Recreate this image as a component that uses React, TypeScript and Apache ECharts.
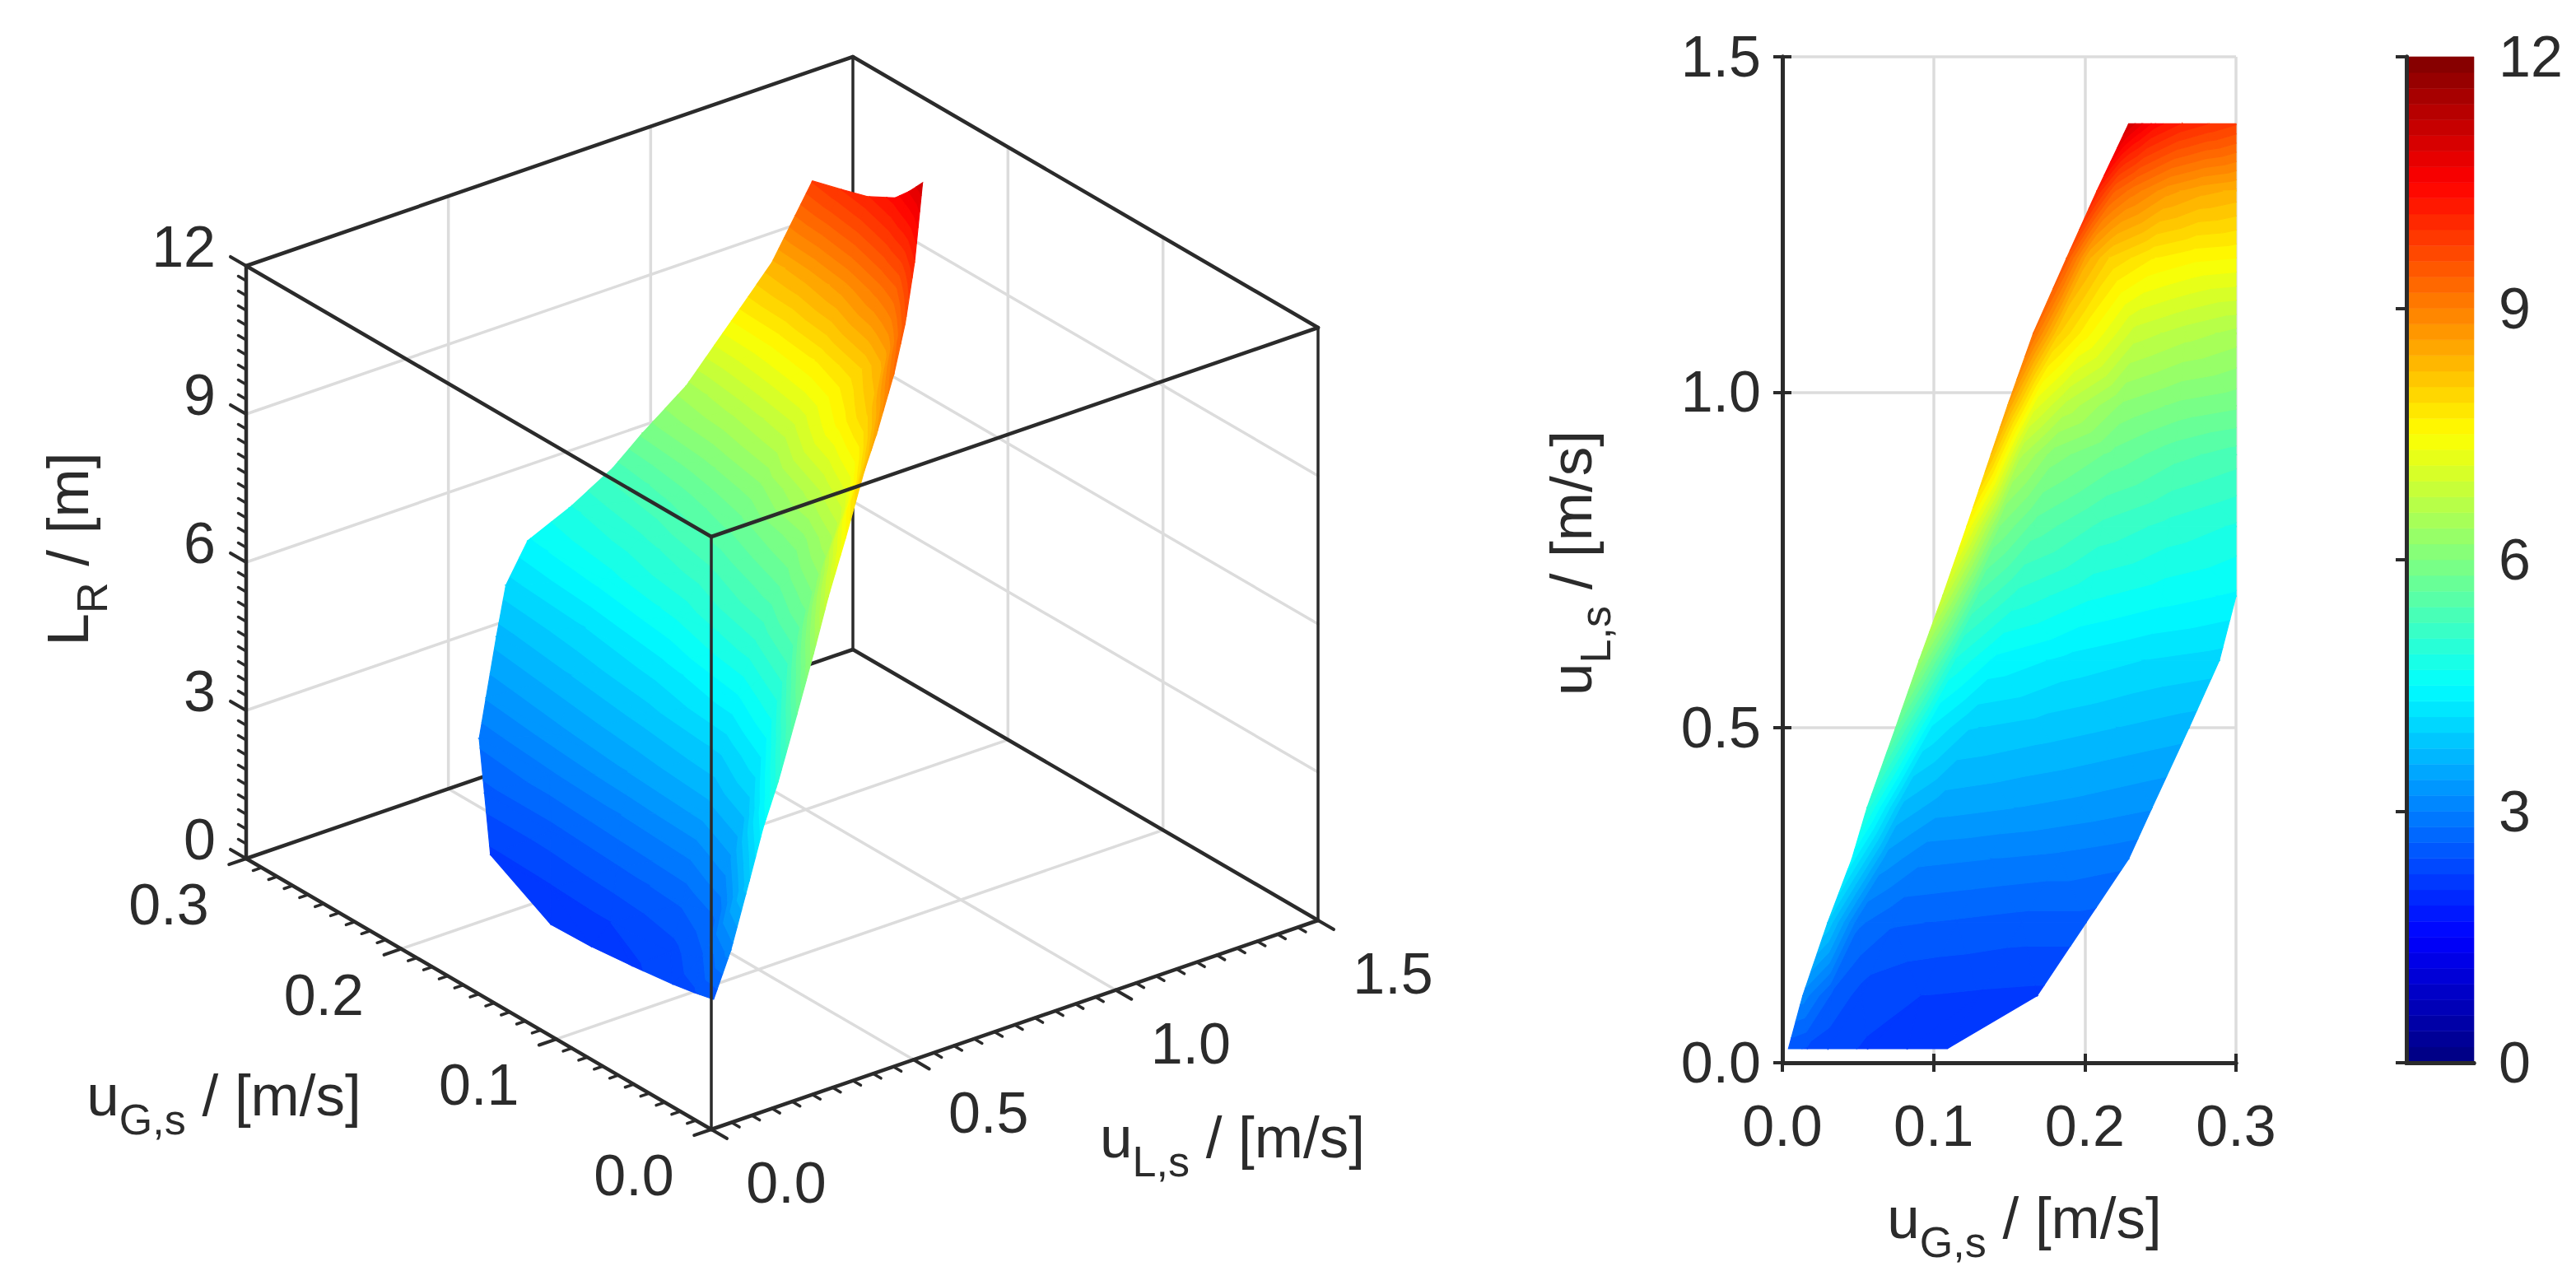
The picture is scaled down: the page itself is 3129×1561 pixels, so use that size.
import React, { useEffect, useRef } from "react";
import * as echarts from "echarts";

// ---- data ----
const UL_ROWS = [0.021, 0.1, 0.209, 0.304, 0.38, 0.5, 0.6, 0.696, 0.8, 0.907, 0.98, 1.088, 1.2, 1.3, 1.4];
const UG_LEFT = [0.004, 0.0135, 0.03, 0.046, 0.056, 0.075, 0.0905, 0.106, 0.122, 0.138, 0.149, 0.166, 0.188, 0.208, 0.229];
const UG_RIGHT = [0.109, 0.1685, 0.2008, 0.229, 0.2444, 0.269, 0.289, 0.3, 0.3, 0.3, 0.3, 0.3, 0.3, 0.3, 0.3];
const COL_FRACTIONS = [0, 0.12, 0.25, 0.5, 0.75, 1];
const LR_ROWS = [
  [2.5, 2.41, 2.33, 2.22, 2.13, 2.1],
  [3.1, 2.6, 2.35, 2.25, 2.22, 2.2],
  [3.9, 2.85, 2.65, 2.6, 2.55, 2.55],
  [4.4, 3.3, 3.05, 3.0, 2.95, 2.87],
  [4.95, 3.7, 3.45, 3.38, 3.3, 3.2],
  [5.65, 4.3, 3.95, 3.85, 3.75, 3.65],
  [6.3, 4.85, 4.45, 4.25, 4.12, 4.04],
  [6.9, 5.4, 5.0, 4.72, 4.58, 4.47],
  [7.5, 6.0, 5.55, 5.2, 5.0, 4.85],
  [8.25, 6.6, 6.1, 5.75, 5.5, 5.35],
  [8.6, 7.2, 6.7, 6.15, 5.95, 5.85],
  [9.2, 8.1, 7.6, 6.85, 6.65, 6.5],
  [9.5, 8.5, 8.05, 7.7, 7.55, 7.5],
  [10.1, 9.4, 9.1, 8.7, 8.5, 8.4],
  [11.03, 10.7, 10.4, 10.1, 9.93, 9.77],
];
const UG_TICKS = [0, 0.1, 0.2, 0.3];
const UL_TICKS = [0, 0.5, 1, 1.5];
const LR_TICKS = [0, 3, 6, 9, 12];
const UG_MINOR = 0.01;
const UL_MINOR = 0.05;
const LR_MINOR = 0.3;
const BAND_COUNT = 64;
const LR_MAX = 12;
const UG_MAX = 0.3;
const UL_MAX = 1.5;

// ---- style ----
const INK = "#2b2b2b";
const GRID = "#dcdcdc";
const FONT = "Liberation Sans";
const TICK_SIZE = 70;

// ---- 3D view: pixel positions of the box ----
const A = [864, 1372];
const VEC_G = [-565, -329]; // full uG span
const VEC_L = [737, -254]; // full uL span
const H = 720; // full L_R span

const project = (g: number, l: number, z: number): number[] => [
  A[0] + (VEC_G[0] * g) / UG_MAX + (VEC_L[0] * l) / UL_MAX,
  A[1] + (VEC_G[1] * g) / UG_MAX + (VEC_L[1] * l) / UL_MAX - (H * z) / LR_MAX,
];

const clamp = (v: number) => Math.max(0, Math.min(1, v));
const jet = (t: number) => {
  const c = (v: number) => Math.round(clamp(v) * 255);
  return `rgb(${c(1.5 - Math.abs(4 * t - 3))},${c(1.5 - Math.abs(4 * t - 2))},${c(1.5 - Math.abs(4 * t - 1))})`;
};
const bandColor = (i: number) => jet((i + 0.5) / BAND_COUNT);
const BAND_INDEX = Array.from({ length: BAND_COUNT }, (_, i) => i);

type P = number[];
const node = (r: number, c: number): P => {
  const g = UG_LEFT[r] + COL_FRACTIONS[c] * (UG_RIGHT[r] - UG_LEFT[r]);
  return [g, UL_ROWS[r], LR_ROWS[r][c]];
};
const clipZ = (poly: P[], level: number, keepAbove: boolean): P[] => {
  const out: P[] = [];
  for (let i = 0; i < poly.length; i++) {
    const a = poly[i];
    const b = poly[(i + 1) % poly.length];
    const ain = keepAbove ? a[2] >= level : a[2] <= level;
    const bin = keepAbove ? b[2] >= level : b[2] <= level;
    if (ain) out.push(a);
    if (ain !== bin) {
      const t = (level - a[2]) / (b[2] - a[2]);
      out.push([a[0] + t * (b[0] - a[0]), a[1] + t * (b[1] - a[1]), level]);
    }
  }
  return out;
};
const bandsOfCell = (r: number, c: number) => {
  const n00 = node(r, c);
  const n01 = node(r, c + 1);
  const n10 = node(r + 1, c);
  const n11 = node(r + 1, c + 1);
  const res: { band: number; pts: P[] }[] = [];
  const dz = LR_MAX / BAND_COUNT;
  [[n10, n11, n01], [n10, n01, n00]].forEach((tri) => {
    const zs = tri.map((p) => p[2]);
    const lo = Math.floor(Math.min(...zs) / dz);
    const hi = Math.floor(Math.max(...zs) / dz);
    for (let b = lo; b <= hi; b++) {
      let poly = clipZ(tri, b * dz, true);
      if (poly.length) poly = clipZ(poly, (b + 1) * dz, false);
      if (poly.length >= 3) res.push({ band: b, pts: poly });
    }
  });
  return res;
};
// far cells first: high uL, then high uG
const CELLS: number[][] = [];
for (let r = UL_ROWS.length - 2; r >= 0; r--) for (let c = COL_FRACTIONS.length - 2; c >= 0; c--) CELLS.push([r, c]);

const surfaceItem = (toPx: (p: P) => number[]) => (_: any, api: any) => {
  const bands = bandsOfCell(api.value(0), api.value(1));
  return {
    type: "group",
    children: bands.map((b) => ({
      type: "polygon",
      silent: true,
      shape: { points: b.pts.map(toPx) },
      style: { fill: bandColor(b.band), stroke: bandColor(b.band), lineWidth: 1.2 },
    })),
  };
};

const lineEl = (p: number[], q: number[], stroke: string, lineWidth: number) => ({
  type: "line",
  silent: true,
  shape: { x1: p[0], y1: p[1], x2: q[0], y2: q[1] },
  style: { stroke, lineWidth, lineCap: "round" },
});
const textEl = (text: string, x: number, y: number, align = "center") => ({
  type: "text",
  silent: true,
  style: { text, x, y, fontFamily: FONT, fontSize: TICK_SIZE, fill: INK, align, verticalAlign: "middle" },
});

const allBox = (children: any[]) => ({ type: "group", children });

const GW = 3.5;
const BW = 4.5;
const backGrid = () => {
  const k: any[] = [];
  UG_TICKS.slice(1, -1).forEach((g) => {
    k.push(lineEl(project(g, 0, 0), project(g, UL_MAX, 0), GRID, GW));
    k.push(lineEl(project(g, UL_MAX, 0), project(g, UL_MAX, LR_MAX), GRID, GW));
  });
  UL_TICKS.slice(1, -1).forEach((l) => {
    k.push(lineEl(project(0, l, 0), project(UG_MAX, l, 0), GRID, GW));
    k.push(lineEl(project(UG_MAX, l, 0), project(UG_MAX, l, LR_MAX), GRID, GW));
  });
  LR_TICKS.slice(1, -1).forEach((z) => {
    k.push(lineEl(project(UG_MAX, 0, z), project(UG_MAX, UL_MAX, z), GRID, GW));
    k.push(lineEl(project(UG_MAX, UL_MAX, z), project(0, UL_MAX, z), GRID, GW));
  });
  // box edges behind the surface
  k.push(lineEl(project(UG_MAX, 0, 0), project(UG_MAX, UL_MAX, 0), INK, BW));
  k.push(lineEl(project(UG_MAX, UL_MAX, 0), project(0, UL_MAX, 0), INK, BW));
  k.push(lineEl(project(UG_MAX, UL_MAX, 0), project(UG_MAX, UL_MAX, LR_MAX), INK, 3.5));
  k.push(lineEl(project(UG_MAX, 0, 0), project(UG_MAX, 0, LR_MAX), INK, BW));
  k.push(lineEl(project(0, UL_MAX, 0), project(0, UL_MAX, LR_MAX), INK, 3.5));
  k.push(lineEl(project(UG_MAX, 0, LR_MAX), project(UG_MAX, UL_MAX, LR_MAX), INK, BW));
  k.push(lineEl(project(UG_MAX, UL_MAX, LR_MAX), project(0, UL_MAX, LR_MAX), INK, BW));
  return allBox(k);
};

const front = () => {
  const k: any[] = [];
  // edges in front of the surface
  k.push(lineEl(project(0, 0, 0), project(0, 0, LR_MAX), INK, 3.5));
  k.push(lineEl(project(UG_MAX, 0, LR_MAX), project(0, 0, LR_MAX), INK, BW));
  k.push(lineEl(project(0, 0, LR_MAX), project(0, UL_MAX, LR_MAX), INK, BW));
  k.push(lineEl(project(0, 0, 0), project(UG_MAX, 0, 0), INK, BW));
  k.push(lineEl(project(0, 0, 0), project(0, UL_MAX, 0), INK, BW));

  const ulen = Math.hypot(VEC_L[0], VEC_L[1]);
  const glen = Math.hypot(VEC_G[0], VEC_G[1]);
  const dirL = [VEC_L[0] / ulen, VEC_L[1] / ulen];
  const dirG = [VEC_G[0] / glen, VEC_G[1] / glen];
  const tick = (p: number[], d: number[], len: number, lw: number) =>
    lineEl(p, [p[0] + d[0] * len, p[1] + d[1] * len], INK, lw);

  // uG axis: ticks point to -uL
  for (let i = 0; i <= Math.round(UG_MAX / UG_MINOR); i++) {
    const g = i * UG_MINOR;
    const major = i % 10 === 0;
    k.push(tick(project(g, 0, 0), [-dirL[0], -dirL[1]], major ? 22 : 11, major ? 4 : 3.5));
  }
  // uL axis: ticks point to -uG
  for (let i = 0; i <= Math.round(UL_MAX / UL_MINOR); i++) {
    const l = i * UL_MINOR;
    const major = i % 10 === 0;
    k.push(tick(project(0, l, 0), [-dirG[0], -dirG[1]], major ? 22 : 11, major ? 4 : 3.5));
  }
  // L_R axis: ticks point to +uG
  for (let i = 0; i <= Math.round(LR_MAX / LR_MINOR); i++) {
    const z = i * LR_MINOR;
    const major = i % 10 === 0;
    k.push(tick(project(UG_MAX, 0, z), dirG, major ? 22 : 11, major ? 4 : 3.5));
  }
  UG_TICKS.forEach((g) => {
    const p = project(g, 0, 0);
    k.push(textEl(g.toFixed(1), p[0] - 94, p[1] + 56));
  });
  UL_TICKS.forEach((l) => {
    const p = project(0, l, 0);
    k.push(textEl(l.toFixed(1), p[0] + 91, p[1] + 65));
  });
  LR_TICKS.forEach((z) => {
    const p = project(UG_MAX, 0, z);
    k.push(textEl(String(z), p[0] - 37, p[1] - 23, "right"));
  });
  return allBox(k);
};

const TITLE_SIZE = 71;
const SUB_SIZE = 52;
const richTitle = {
  u: { fontFamily: FONT, fontSize: TITLE_SIZE, fill: INK, color: INK },
  s: { fontFamily: FONT, fontSize: SUB_SIZE, fill: INK, color: INK, padding: [60, 0, 0, 0] },
  n: { fontFamily: FONT, fontSize: TITLE_SIZE, fill: INK, color: INK },
};
const titleText = (main: string, sub: string, unit: string) => `{u|${main}}{s|${sub}}{n| / [${unit}]}`;
const graphicTitle = (main: string, sub: string, unit: string, x: number, y: number, rotation = 0) => ({
  type: "text",
  x,
  y,
  rotation,
  silent: true,
  style: { text: titleText(main, sub, unit), rich: richTitle, align: "center", verticalAlign: "middle", fill: INK },
});

const FW = 5;
const axisLine = { show: true, lineStyle: { color: INK, width: FW } };
const tickIn = (length: number) => ({ show: true, inside: true, length, lineStyle: { color: INK, width: 4 } });

const plotLeft = 2165;
const plotTop = 69;
const plotW = 551;
const plotH = 1222;
const cbLeft = 2923;
const cbW = 82;

const option: any = {
  animation: false,
  backgroundColor: "#ffffff",
  textStyle: { fontFamily: FONT },
  graphic: [
    graphicTitle("u", "G,s", "m/s", 272, 1330),
    graphicTitle("u", "L,s", "m/s", 1497, 1381),
    graphicTitle("L", "R", "m", 82, 667, Math.PI / 2),
    graphicTitle("u", "G,s", "m/s", 2459, 1479),
    graphicTitle("u", "L,s", "m/s", 1908, 684, Math.PI / 2),
  ],
  grid: [
    { left: plotLeft, top: plotTop, width: plotW, height: plotH, show: false },
    { left: cbLeft, top: plotTop, width: cbW, height: plotH, show: false },
  ],
  xAxis: [
    {
      gridIndex: 0, type: "value", min: 0, max: UG_MAX, interval: 0.1, position: "bottom",
      axisLine, axisTick: tickIn(11),
      axisLabel: { show: true, margin: 42, color: INK, fontFamily: FONT, fontSize: TICK_SIZE, formatter: (v: number) => v.toFixed(1) },
      splitLine: { show: true, lineStyle: { color: GRID, width: GW } },
    },
    {
      gridIndex: 0, type: "value", min: 0, max: UG_MAX, interval: 0.1, position: "top",
      axisLine, axisTick: tickIn(11),
      axisLabel: { show: false }, splitLine: { show: false },
    },
    { gridIndex: 1, type: "value", min: 0, max: 1, position: "bottom", z: 5, axisLine, axisTick: { show: false }, axisLabel: { show: false }, splitLine: { show: false } },
    { gridIndex: 1, type: "value", min: 0, max: 1, position: "top", z: 5, axisLine, axisTick: { show: false }, axisLabel: { show: false }, splitLine: { show: false } },
  ],
  yAxis: [
    {
      gridIndex: 0, type: "value", min: 0, max: UL_MAX, interval: 0.5, position: "left",
      axisLine, axisTick: tickIn(11),
      axisLabel: { show: true, margin: 26, color: INK, fontFamily: FONT, fontSize: TICK_SIZE, formatter: (v: number) => v.toFixed(1) },
      splitLine: { show: true, lineStyle: { color: GRID, width: GW } },
    },
    {
      gridIndex: 0, type: "value", min: 0, max: UL_MAX, interval: 0.5, position: "right", z: 5,
      axisLine, axisTick: tickIn(11),
      axisLabel: { show: false }, splitLine: { show: false },
    },
    {
      gridIndex: 1, type: "value", min: 0, max: LR_MAX, interval: 3, position: "right", z: 5,
      axisLine, axisTick: tickIn(13),
      axisLabel: { show: true, margin: 30, color: INK, fontFamily: FONT, fontSize: TICK_SIZE },
      splitLine: { show: false },
    },
    { gridIndex: 1, type: "value", min: 0, max: LR_MAX, position: "left", z: 5, axisLine, axisTick: { show: false }, axisLabel: { show: false }, splitLine: { show: false } },
  ],
  series: [
    { type: "custom", coordinateSystem: "none", z: 1, data: [[0]], silent: true, renderItem: backGrid },
    {
      type: "custom", coordinateSystem: "none", z: 2, data: CELLS, silent: true,
      renderItem: surfaceItem((p) => project(p[0], p[1], p[2])),
    },
    { type: "custom", coordinateSystem: "none", z: 3, data: [[0]], silent: true, renderItem: front },
    {
      type: "custom", coordinateSystem: "cartesian2d", xAxisIndex: 0, yAxisIndex: 0, z: 2, silent: true,
      data: CELLS, encode: { x: 0, y: 1 }, clip: false,
      renderItem: (params: any, api: any) => surfaceItem((p) => api.coord([p[0], p[1]]))(params, api),
    },
    {
      type: "custom", coordinateSystem: "cartesian2d", xAxisIndex: 2, yAxisIndex: 2, z: 2, silent: true,
      data: BAND_INDEX.map((i) => [i]), encode: { y: 0 }, clip: false,
      renderItem: (_: any, api: any) => {
        const i = api.value(0);
        const step = LR_MAX / BAND_COUNT;
        const p0 = api.coord([0, i * step]);
        const p1 = api.coord([1, (i + 1) * step]);
        return {
          type: "rect",
          silent: true,
          shape: { x: p0[0], y: p1[1], width: p1[0] - p0[0], height: p0[1] - p1[1] },
          style: { fill: bandColor(i), stroke: bandColor(i), lineWidth: 0.6 },
        };
      },
    },
  ],
};

export default function App() {
  const ref = useRef<HTMLDivElement>(null);
  useEffect(() => {
    const chart = echarts.init(ref.current!, undefined, { renderer: "svg" });
    chart.setOption(option);
    return () => chart.dispose();
  }, []);
  return <div ref={ref} style={{ position: "fixed", left: 0, top: 0, width: 3129, height: 1561, background: "#fff" }} />;
}
